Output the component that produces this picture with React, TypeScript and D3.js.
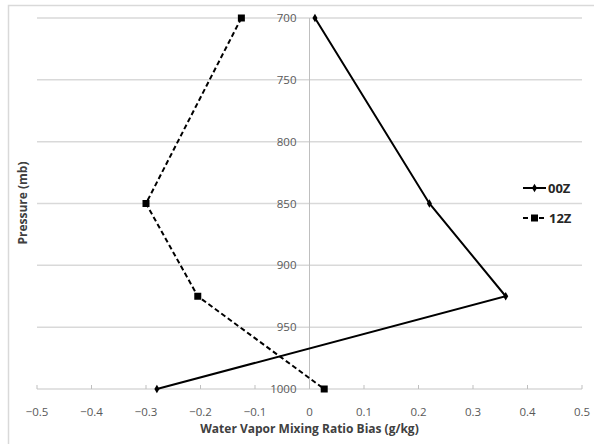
import React from 'react';
import * as d3 from 'd3';

// pressure levels (mb) and water vapour mixing ratio bias (g/kg)
const levels = [700, 850, 925, 1000];
const bias00Z = [0.01, 0.22, 0.36, -0.28];
const bias12Z = [-0.125, -0.3, -0.205, 0.027];
const seriesNames = ['00Z', '12Z'];
const xTicks = [-0.5, -0.4, -0.3, -0.2, -0.1, 0, 0.1, 0.2, 0.3, 0.4, 0.5];
const yTicks = [700, 750, 800, 850, 900, 950, 1000];

const W = 594;
const H = 444;
const font = '"Open Sans", "Liberation Sans", sans-serif';

export default function App() {
  const x = d3.scaleLinear().domain([-0.5, 0.5]).range([37, 582]);
  const y = d3.scaleLinear().domain([700, 1000]).range([18, 389]);

  const line = d3.line<[number, number]>()
    .x(d => x(d[0]))
    .y(d => y(d[1]));

  const pts00 = levels.map((p, i) => [bias00Z[i], p] as [number, number]);
  const pts12 = levels.map((p, i) => [bias12Z[i], p] as [number, number]);

  const diamond = d3.symbol().type(d3.symbolDiamond).size(22)() as string;

  return (
    <svg width={W} height={H} style={{ position: 'absolute', left: 0, top: 0, background: '#fff' }}>
      {/* outer frame */}
      <rect x={8.5} y={5.5} width={W} height={H} fill="#fff" stroke="#d9d9d9" strokeWidth={1.5} />

      {/* gridlines */}
      {yTicks.map(t => (
        <line key={t} x1={x(-0.5)} x2={x(0.5)} y1={y(t)} y2={y(t)} stroke="#d9d9d9" strokeWidth={1.5} />
      ))}

      {/* vertical axis at x = 0 */}
      <line x1={x(0)} x2={x(0)} y1={y(700)} y2={y(1000)} stroke="#bfbfbf" strokeWidth={1} />

      {/* bottom axis ticks */}
      {xTicks.map(t => (
        <line key={t} x1={x(t)} x2={x(t)} y1={y(1000)} y2={y(1000) - 4} stroke="#bfbfbf" strokeWidth={1} />
      ))}

      {/* y tick labels */}
      {yTicks.map(t => (
        <text key={t} x={x(0) - 13} y={y(t) + 4} textAnchor="end" fontFamily={font} fontSize={11.5} fill="#595959">
          {t}
        </text>
      ))}

      {/* x tick labels */}
      {xTicks.map(t => (
        <text key={t} x={x(t)} y={y(1000) + 27} textAnchor="middle" fontFamily={font} fontSize={11.5} fill="#595959">
          {t === 0 ? '0' : d3.format('.1f')(t)}
        </text>
      ))}

      {/* axis titles */}
      <text x={x(0)} y={433} textAnchor="middle" fontFamily={font} fontSize={12} fontWeight="bold" fill="#404040">
        Water Vapor Mixing Ratio Bias (g/kg)
      </text>
      <text transform="translate(27,203) rotate(-90)" textAnchor="middle" fontFamily={font} fontSize={12} fontWeight="bold" fill="#404040">
        Pressure (mb)
      </text>

      {/* series */}
      <path d={line(pts12) as string} fill="none" stroke="#000" strokeWidth={2} strokeDasharray="5,3" />
      <path d={line(pts00) as string} fill="none" stroke="#000" strokeWidth={2} />
      {pts12.map((d, i) => (
        <rect key={i} x={x(d[0]) - 3.5} y={y(d[1]) - 3.5} width={7} height={7} fill="#000" />
      ))}
      {pts00.map((d, i) => (
        <path key={i} d={diamond} transform={`translate(${x(d[0])},${y(d[1])})`} fill="#000" />
      ))}

      {/* legend */}
      <g fontFamily={font} fontSize={13} fontWeight="bold" fill="#262626">
        <line x1={523} x2={546} y1={188} y2={188} stroke="#000" strokeWidth={2} />
        <path d={diamond} transform="translate(534.5,188)" fill="#000" />
        <text x={548} y={193}>{seriesNames[0]}</text>
        <line x1={523} x2={546} y1={218} y2={218} stroke="#000" strokeWidth={2} strokeDasharray="5,3" />
        <rect x={531} y={214.5} width={7} height={7} fill="#000" />
        <text x={549} y={223}>{seriesNames[1]}</text>
      </g>
    </svg>
  );
}
